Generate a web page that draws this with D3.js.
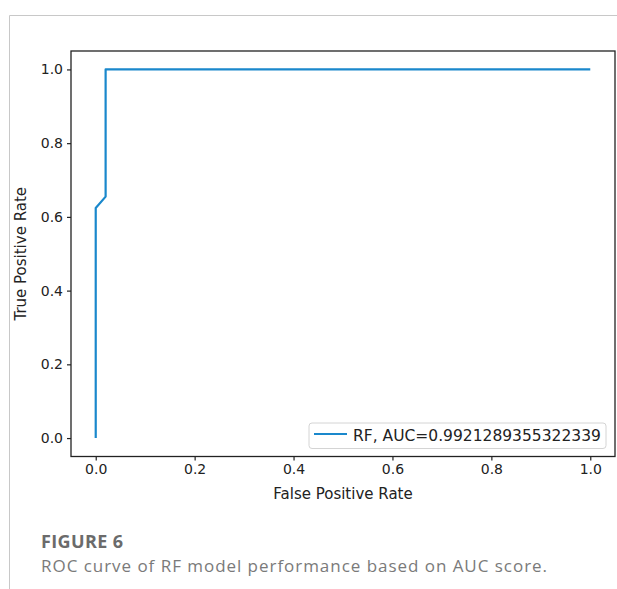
<!DOCTYPE html>
<html><head><meta charset="utf-8">
<script src="https://cdn.jsdelivr.net/npm/d3@7"></script>
<style>
html,body{margin:0;padding:0;background:#fff;}
svg{display:block;}
</style></head>
<body>
<svg id="chart" width="617" height="589"></svg>
<script>
// Data
const fpr = [0, 0, 0.02, 0.02, 1];
const tpr = [0, 0.624, 0.655, 1, 1];
const xTicks = [0.0, 0.2, 0.4, 0.6, 0.8, 1.0];
const yTicks = [0.0, 0.2, 0.4, 0.6, 0.8, 1.0];
const legendLabel = "RF, AUC=0.9921289355322339";
const xLabel = "False Positive Rate";
const yLabel = "True Positive Rate";
const figTitle = "FIGURE 6";
const figCaption = "ROC curve of RF model performance based on AUC score.";

const svg = d3.select("#chart");
const font = "'DejaVu Sans', sans-serif";

// outer frame
svg.append("line").attr("x1", 9.5).attr("x2", 617).attr("y1", 15.5).attr("y2", 15.5)
  .attr("stroke", "#c8c8c8").attr("stroke-width", 1);
svg.append("line").attr("x1", 9.5).attr("x2", 9.5).attr("y1", 15.5).attr("y2", 589)
  .attr("stroke", "#c8c8c8").attr("stroke-width", 1);

const L = 71, R = 615, T = 51, B = 456.5;
const x = d3.scaleLinear().domain([-0.05, 1.05]).range([L, R]);
const y = d3.scaleLinear().domain([-0.05, 1.05]).range([B, T]);

// axes
const xAxis = d3.axisBottom(x).tickValues(xTicks).tickFormat(d3.format(".1f")).tickSize(4).tickPadding(4);
const yAxis = d3.axisLeft(y).tickValues(yTicks).tickFormat(d3.format(".1f")).tickSize(4).tickPadding(4);
const gx = svg.append("g").attr("transform", `translate(0,${B})`).call(xAxis);
const gy = svg.append("g").attr("transform", `translate(${L},0)`).call(yAxis);
[gx, gy].forEach(g => {
  g.select(".domain").remove();
  g.selectAll(".tick line").attr("stroke", "#222").attr("stroke-width", 1.2);
  g.selectAll(".tick text").attr("font-family", font).attr("font-size", 14).attr("fill", "#222");
});

// curve
const line = d3.line().x((d, i) => x(fpr[i])).y((d, i) => y(tpr[i]));
svg.append("path").datum(fpr).attr("d", line)
  .attr("fill", "none").attr("stroke", "#1a88cc").attr("stroke-width", 2.2)
  .attr("stroke-linejoin", "round");

// spines
svg.append("rect").attr("x", L).attr("y", T).attr("width", R - L).attr("height", B - T)
  .attr("fill", "none").attr("stroke", "#222").attr("stroke-width", 1.3);

// legend
const lg = svg.append("g");
lg.append("rect").attr("x", 309).attr("y", 423).attr("width", 297).attr("height", 25.5)
  .attr("rx", 3).attr("fill", "#fff").attr("fill-opacity", 0.8)
  .attr("stroke", "#d4d4d4").attr("stroke-width", 1);
lg.append("line").attr("x1", 314).attr("x2", 347).attr("y1", 434).attr("y2", 434)
  .attr("stroke", "#1a88cc").attr("stroke-width", 2.2);
lg.append("text").attr("x", 353).attr("y", 440.5).text(legendLabel)
  .attr("font-family", font).attr("font-size", 15.5).attr("fill", "#222");

// axis labels
svg.append("text").attr("x", (L + R) / 2).attr("y", 499).attr("text-anchor", "middle")
  .text(xLabel).attr("font-family", font).attr("font-size", 15).attr("fill", "#222");
svg.append("text").attr("transform", `translate(26,${(T + B) / 2}) rotate(-90)`)
  .attr("text-anchor", "middle").text(yLabel)
  .attr("font-family", font).attr("font-size", 15).attr("fill", "#222");

// caption
svg.append("text").attr("x", 41).attr("y", 548).text(figTitle)
  .attr("font-family", "'Open Sans', sans-serif").attr("font-weight", 700)
  .attr("font-size", 18).attr("fill", "#6b6b6b")
  .attr("textLength", 82).attr("lengthAdjust", "spacing");
svg.append("text").attr("x", 41).attr("y", 571.5).text(figCaption)
  .attr("font-family", "'Open Sans', sans-serif").attr("font-weight", 400)
  .attr("font-size", 17).attr("fill", "#7a7a7a")
  .attr("textLength", 506).attr("lengthAdjust", "spacing");
</script>
</body></html>
